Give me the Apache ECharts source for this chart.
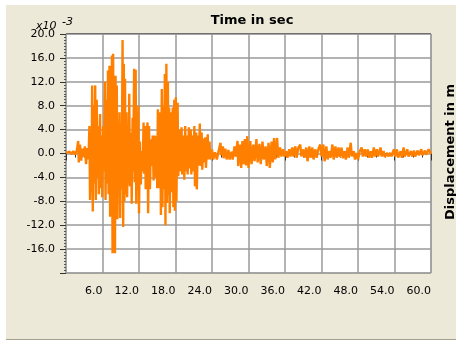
<!DOCTYPE html>
<html><head><meta charset="utf-8">
<script src="https://cdn.jsdelivr.net/npm/echarts@6/dist/echarts.min.js"></script>
<style>
html,body{margin:0;padding:0;background:#fff;width:456px;height:341px;overflow:hidden;}
#panel{position:absolute;left:6px;top:5px;width:450px;height:334px;background:#ECE9D8;border-bottom:1px solid #A3A08E;}
#chart{position:absolute;left:0;top:0;width:456px;height:341px;}
</style></head><body>
<div id="panel"></div><div id="chart"></div>
<script>
// Time (s)
const times = [
0.0,0.3,0.6,0.9,1.2,1.5,1.8,2.0,2.1,2.3,2.5,2.7,2.9,3.1,3.3,3.5,3.7,3.85,3.95,4.1,
4.2,4.3,4.4,4.55,4.65,4.8,4.9,5.05,5.15,5.3,5.4,5.6,5.7,5.85,5.95,6.1,6.2,6.4,6.5,6.65,
6.75,6.9,7.0,7.15,7.25,7.4,7.5,7.55,7.65,7.75,7.85,7.95,8.05,8.15,8.25,8.35,8.45,8.55,8.65,8.8,
8.9,9.05,9.15,9.3,9.4,9.5,9.6,9.7,9.8,9.95,10.05,10.2,10.3,10.4,10.5,10.7,10.8,10.95,11.05,11.2,
11.3,11.45,11.55,11.7,11.8,11.9,12.0,12.15,12.3,12.45,12.6,12.75,12.85,13.0,13.1,13.25,13.4,13.5,13.65,13.8,
13.95,14.05,14.25,14.4,14.6,14.75,14.9,15.0,15.1,15.2,15.35,15.5,15.6,15.75,15.85,16.0,16.1,16.25,16.35,16.5,
16.6,16.75,16.85,16.95,17.05,17.25,17.35,17.55,17.65,17.8,17.9,18.05,18.15,18.35,18.45,18.7,18.8,19.0,19.1,19.35,
19.45,19.6,19.7,19.9,20.0,20.2,20.3,20.5,20.6,20.8,20.9,21.1,21.2,21.4,21.5,21.7,21.8,22.0,22.1,22.3,
22.4,22.6,22.7,22.9,23.0,23.3,23.4,23.6,23.7,24.0,24.2,24.5,24.8,25.1,25.4,25.5,25.8,25.9,26.2,26.4,
26.7,26.9,27.2,27.4,27.7,27.9,28.2,28.3,28.6,28.8,29.0,29.2,29.4,29.6,29.8,30.0,30.3,30.5,30.8,31.0,
31.3,31.5,31.8,32.0,32.3,32.5,32.8,33.0,33.3,33.5,33.8,34.0,34.2,34.4,34.7,34.9,35.2,35.4,35.7,35.9,
36.2,36.4,36.7,36.9,37.2,37.4,37.7,37.9,38.2,38.5,38.7,39.0,39.2,39.5,39.7,40.0,40.2,40.5,40.7,41.0,
41.2,41.5,41.8,42.0,42.3,42.5,42.8,43.0,43.3,43.5,43.8,44.0,44.3,44.5,44.8,45.0,45.3,45.5,45.8,46.0,
46.3,46.5,46.8,47.0,47.3,47.5,47.8,48.0,48.3,48.6,48.8,49.1,49.3,49.6,49.8,50.1,50.3,50.6,50.8,51.1,
51.3,51.7,51.9,52.2,52.4,52.8,53.0,53.3,53.5,53.9,54.1,54.4,54.6,55.0,55.2,55.5,55.7,56.1,56.3,56.7,
56.9,57.2,57.4,57.8,58.0,58.4,58.6,59.0,59.2,59.6,60.0
];
// Displacement (x10^-3 m)
const disp = [
0.1,-0.2,0.3,-0.1,0.4,-0.2,0.6,2.1,-1.5,1.5,-1.2,0.8,-0.6,1.2,-1.8,0.9,-1.0,4.6,-7.8,3.5,
-6.5,11.4,-9.7,8.0,-5.0,11.4,-7.8,9.0,-4.0,4.6,-6.8,6.6,-5.8,3.0,-7.3,4.5,-3.0,12.0,-7.8,9.0,
-5.0,13.9,-6.8,14.7,-10.6,12.0,-8.0,16.4,-16.7,16.7,-12.8,10.0,-16.7,13.0,-9.0,11.4,-11.0,4.6,-5.5,6.9,
-10.8,5.0,-6.0,19.0,-12.3,15.0,-8.0,12.5,-6.8,6.9,-7.3,4.0,-5.0,10.0,-5.5,3.5,-8.4,6.0,-3.0,14.2,
-4.8,14.0,-8.4,7.0,-6.0,8.0,-10.0,2.0,-5.2,0.4,-3.0,5.2,-3.4,4.6,-6.0,3.0,5.2,-10.0,4.6,-6.0,
2.4,-2.1,3.0,-4.5,3.0,-4.0,2.9,-5.8,7.4,-5.8,5.0,6.9,-10.3,10.8,-9.0,8.0,-6.0,13.3,-12.0,15.0,
-8.3,12.0,-7.0,7.7,-10.0,6.9,-6.5,7.7,-9.0,9.0,-9.6,9.4,-8.0,8.5,-3.8,4.0,-3.0,4.4,-3.5,3.0,
-4.4,4.6,-3.0,3.0,-3.5,4.4,-2.5,4.0,-3.5,3.0,-3.0,4.6,-5.5,3.5,-6.0,3.0,-2.0,5.0,-2.1,3.5,
-2.7,2.5,-1.5,2.7,-2.4,3.2,-1.0,2.0,-1.0,0.7,-1.0,0.2,-1.0,0.5,1.8,-0.3,1.2,-0.8,0.8,-1.0,
0.6,-1.0,0.3,-1.0,1.2,-0.5,2.1,-2.1,1.5,-2.4,2.1,-1.8,2.4,-2.0,2.9,-2.4,2.1,-1.8,1.5,-1.3,
2.4,-1.5,1.6,-1.8,2.0,-1.0,1.2,-2.1,1.8,-2.4,2.0,-1.5,2.6,-1.0,2.6,-0.7,1.0,-0.5,0.7,-0.5,
0.4,-0.7,0.7,-0.5,1.0,-0.5,1.2,-0.7,1.0,1.5,-0.5,0.7,-0.7,1.0,-1.3,1.2,-0.7,1.0,-1.0,0.7,
-0.7,0.8,1.5,-0.5,1.5,-1.3,1.2,-1.0,0.4,-0.7,1.5,-1.0,1.2,-0.7,1.0,-0.6,1.0,-0.8,0.4,-1.0,
1.0,-0.7,1.8,-0.5,0.4,-1.0,0.1,-1.0,0.4,1.0,-0.5,0.7,-0.5,0.7,-0.7,0.4,-0.7,1.0,-0.5,0.7,
-0.5,1.0,-0.5,0.4,-0.6,0.1,-0.5,0.1,-0.5,0.7,-0.5,0.7,-0.7,0.4,-0.7,1.0,-0.5,0.7,-0.5,0.4,
-0.5,0.5,-0.5,0.5,-0.3,0.7,-0.3,0.5,-0.2,0.7,-0.1
];
const xTickLabels = {6:'6.0',12:'12.0',18:'18.0',24:'24.0',30:'30.0',36:'36.0',42:'42.0',48:'48.0',54:'54.0',60:'60.0'};
const yTickLabels = {'-16':'-16.0','-12':'-12.0','-8':'-8.0','-4':'-4.0','0':'0.0','4':'4.0','8':'8.0','12':'12.0','16':'16.0','20':'20.0'};

const seriesData = times.map((t, i) => [t, disp[i]]);
const FONT = '"DejaVu Sans", Verdana, sans-serif';
const chart = echarts.init(document.getElementById('chart'), null, {renderer: 'canvas'});
chart.setOption({
  animation: false,
  backgroundColor: 'transparent',
  grid: {left: 66, top: 34, right: 25, bottom: 68, show: true, backgroundColor: '#ffffff', borderColor: '#8c8c8c', borderWidth: 1},
  xAxis: {
    type: 'value', min: 0, max: 60, interval: 6, position: 'bottom', offset: 6,
    axisLine: {show: false},
    axisTick: {show: true, length: 7, lineStyle: {color: '#333', width: 1}},
    minorTick: {show: true, splitNumber: 4, length: 4, lineStyle: {color: '#333', width: 1}},
    splitLine: {show: true, lineStyle: {color: '#9a9a9a', width: 1.5}},
    axisLabel: {formatter: v => xTickLabels[v] || '', align: 'right', margin: 7, fontFamily: FONT, fontSize: 11, color: '#000'}
  },
  yAxis: {
    type: 'value', min: -20, max: 20, interval: 4, offset: 2,
    axisLine: {show: false},
    axisTick: {show: true, length: 6, lineStyle: {color: '#333', width: 1}},
    minorTick: {show: true, splitNumber: 8, length: 2, lineStyle: {color: '#555', width: 1}},
    splitLine: {show: true, lineStyle: {color: '#9a9a9a', width: 1.5}},
    axisLabel: {formatter: v => yTickLabels[String(v)] || '', margin: 9, padding: [10, 0, 0, 0], fontFamily: FONT, fontSize: 11, color: '#000'}
  },
  series: [{
    type: 'line', data: seriesData, showSymbol: false, symbol: 'none',
    lineStyle: {color: '#FF8000', width: 2.4, join: 'bevel'}, itemStyle: {color: '#FF8000'}, clip: true
  }],
  graphic: [
    {type: 'rect', shape: {x: 66, y: 33, width: 365, height: 1}, style: {fill: '#707070'}, z: 10},
    {type: 'text', x: 252, y: 21, style: {text: 'Time in sec', font: 'bold 13px ' + FONT, fill: '#000', align: 'center', verticalAlign: 'middle'}},
    {type: 'text', x: 451, y: 152, rotation: Math.PI / 2, style: {text: 'Displacement in m', font: 'bold 13px ' + FONT, fill: '#000', align: 'center', verticalAlign: 'middle'}},
    {type: 'text', x: 36, y: 26, style: {text: 'x10', font: 'italic 11px ' + FONT, fill: '#000', align: 'left', verticalAlign: 'middle'}},
    {type: 'text', x: 62, y: 22, style: {text: '-3', font: 'italic 11px ' + FONT, fill: '#000', align: 'left', verticalAlign: 'middle'}}
  ]
});
</script>
</body></html>
